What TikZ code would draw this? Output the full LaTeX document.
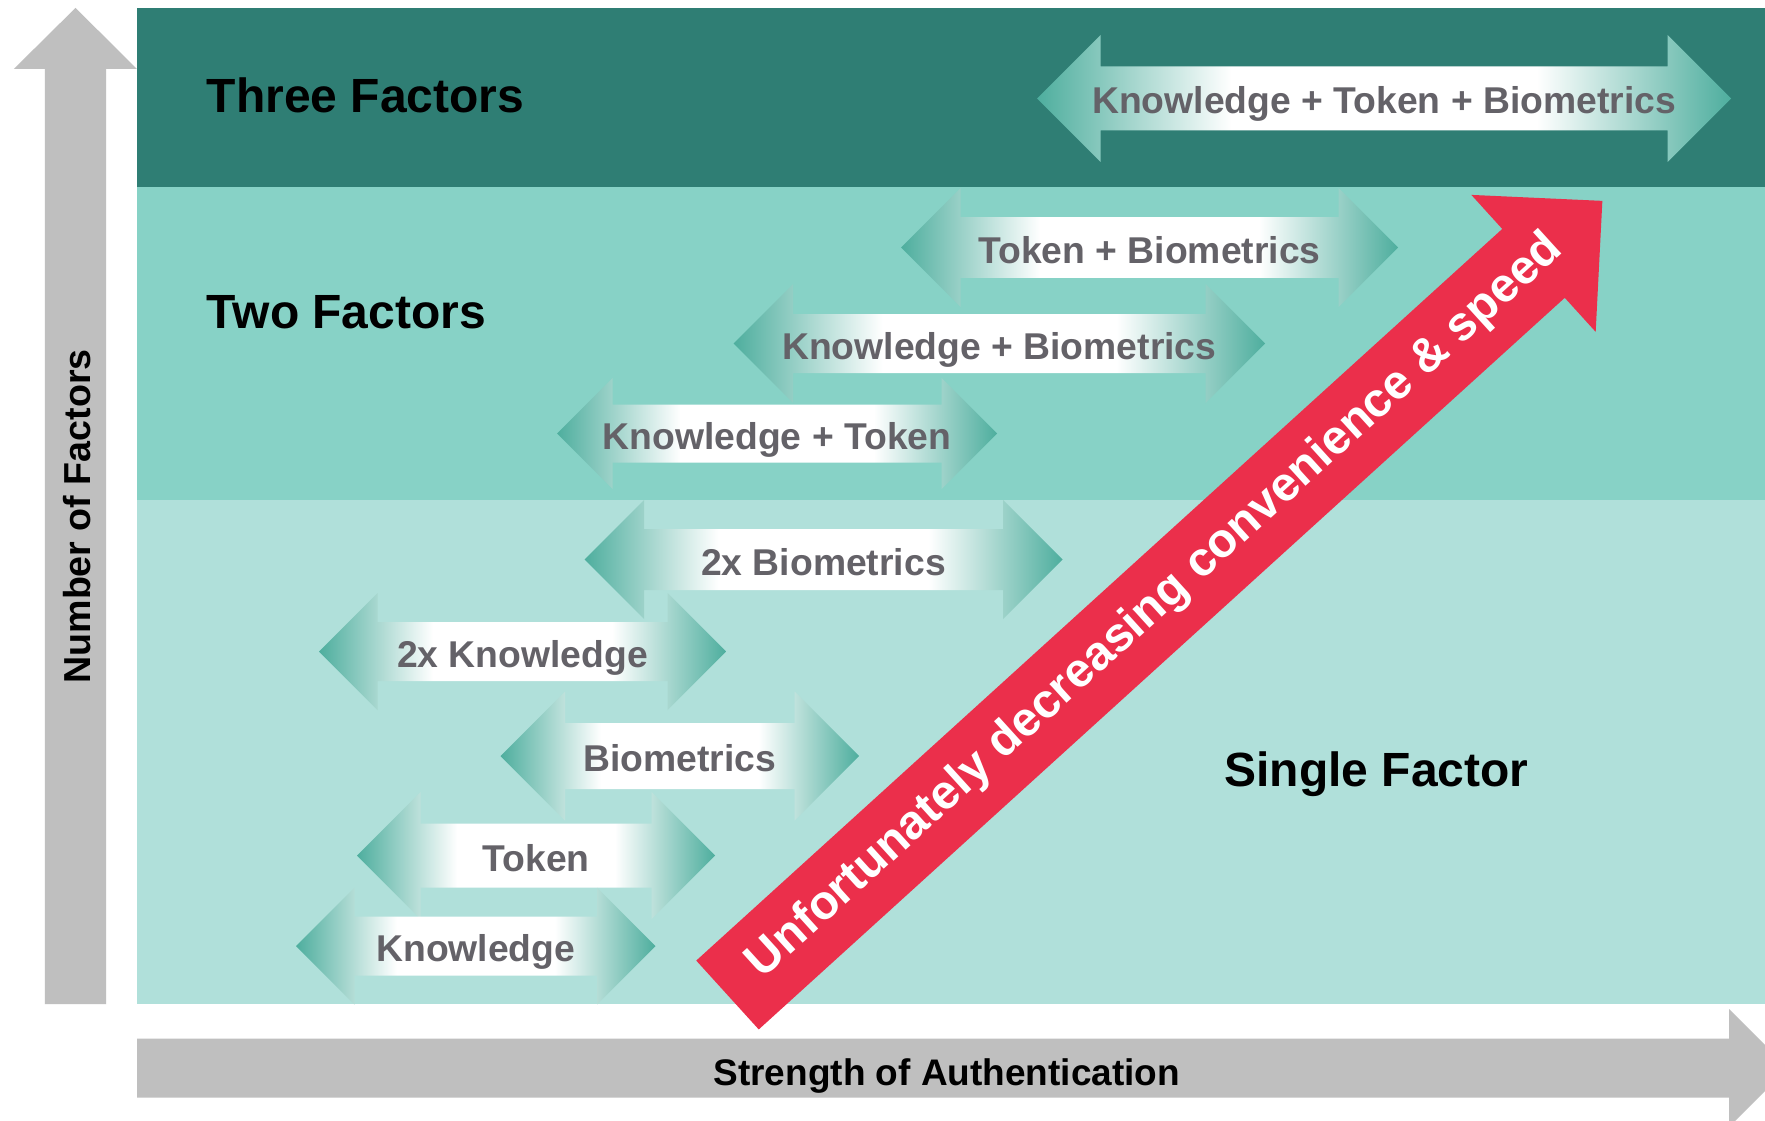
\documentclass[tikz,border=0pt]{standalone}
\usepackage{fontspec}
\setmainfont{Liberation Sans}
\definecolor{darkband}{RGB}{47,126,116}
\definecolor{midband}{RGB}{135,210,198}
\definecolor{lightband}{RGB}{176,224,218}
\definecolor{axisgray}{RGB}{191,191,191}
\definecolor{redarrow}{RGB}{235,47,75}
\definecolor{tealtip}{RGB}{78,174,158}
\definecolor{lblgray}{RGB}{100,98,104}
\pgfdeclarehorizontalshading{dblshade}{100bp}{color(0bp)=(tealtip); color(25bp)=(tealtip); color(39bp)=(white); color(61bp)=(white); color(75bp)=(tealtip); color(100bp)=(tealtip)}
\tikzset{
  lbl/.style={text=lblgray, font=\bfseries\fontsize{37.3}{41}\selectfont, inner sep=0pt},
  bandtitle/.style={text=black, font=\bfseries\fontsize{48}{52}\selectfont, inner sep=0pt},
  axislbl/.style={text=black, font=\bfseries\fontsize{37}{41}\selectfont, inner sep=0pt},
  redlbl/.style={text=white, font=\bfseries\fontsize{48}{52}\selectfont, inner sep=0pt},
  grayarrow/.style={fill=axisgray},
}
% #1 name, #2 left tip x, #3 right tip x, #4 centre y, #5 head half height (= head length), #6 shaft half height, #7 label
\newcommand\dblarrow[7]{%
  \shade[shading=dblshade] (#2,#4) -- ({#2+#5},{#4-#5}) -- ({#2+#5},{#4-#6}) -- ({#3-#5},{#4-#6})
    -- ({#3-#5},{#4-#5}) -- (#3,#4) -- ({#3-#5},{#4+#5}) -- ({#3-#5},{#4+#6})
    -- ({#2+#5},{#4+#6}) -- ({#2+#5},{#4+#5}) -- cycle;
  \node[lbl, anchor=base] (#1) at ({(#2+#3)/2},{#4+15.5}) {#7};}
\begin{document}
\begin{tikzpicture}[x=1pt, y=-1pt]
\useasboundingbox (0,0) rectangle (1765,1121);
\clip (0,0) rectangle (1765,1121);
\fill[white] (0,0) rectangle (1765,1121);
% bands
\fill[darkband] (137,8) rectangle (1765,187);
\fill[midband] (137,187) rectangle (1765,500);
\fill[lightband] (137,500) rectangle (1765,1004);
% vertical axis arrow
\fill[grayarrow] (44.8,1004) -- (44.8,69) -- (13.8,69) -- (75.5,7.9) -- (137,69) -- (106.2,69) -- (106.2,1004) -- cycle;
\node[axislbl, font=\bfseries\fontsize{37.6}{41}\selectfont, rotate=90, anchor=base] (nfactors) at (90.5,516.4) {Number of Factors};
% horizontal axis arrow
\fill[grayarrow] (137,1038.6) -- (1729,1038.6) -- (1729,1009) -- (1788,1068) -- (1729,1127) -- (1729,1097.5) -- (137,1097.5) -- cycle;
\node[axislbl, anchor=base] (strength) at (946.8,1085.5) {Strength of Authentication};
% band titles
\node[bandtitle, anchor=base west] (three) at (206.7,112.5) {Three Factors};
\node[bandtitle, anchor=base west] (two) at (206.7,328) {Two Factors};
\node[bandtitle, anchor=base west] (single) at (1224.3,786) {Single Factor};
% double arrows
\dblarrow{ktb}{1037}{1731}{98.5}{63.5}{32}{Knowledge + Token + Biometrics}
\dblarrow{tb}{901}{1398}{247.5}{59.5}{30.4}{Token + Biometrics}
\dblarrow{kb}{733.6}{1265}{343.5}{59.5}{29.5}{Knowledge + Biometrics}
\dblarrow{kt}{557}{997}{433.5}{55.5}{29}{Knowledge + Token}
\dblarrow{bb}{584.5}{1062.5}{559.5}{59.5}{30.5}{2x Biometrics}
\dblarrow{kk}{319}{726}{651.5}{58.5}{29.5}{2x Knowledge}
\dblarrow{bio}{500.5}{859}{756}{64.5}{33}{Biometrics}
\dblarrow{tok}{357}{715}{855.5}{63.5}{32}{Token}
\dblarrow{kno}{296}{655.5}{946}{58.5}{29.5}{Knowledge}
% red arrow
\begin{scope}[shift={(727.5,995)}, rotate=42.23]
  \fill[redarrow] (0,-46.5) -- (1088.6,-46.5) -- (1088.6,-92.5) -- (1181.6,0) -- (1088.6,92.5) -- (1088.6,46.5) -- (0,46.5) -- cycle;
  \node[redlbl, transform shape, anchor=center] (redtext) at (578,0) {Unfortunately decreasing convenience \& speed};
\end{scope}
\end{tikzpicture}
\end{document}
